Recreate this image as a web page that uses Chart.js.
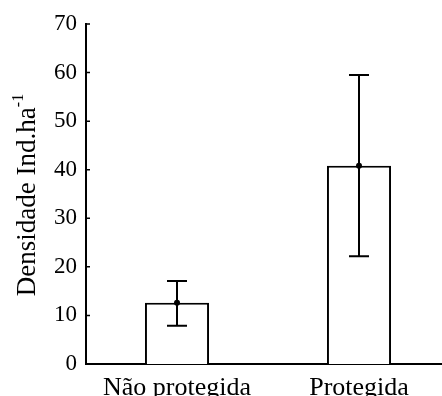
<!DOCTYPE html>
<html>
<head>
<meta charset="utf-8">
<script src="https://cdn.jsdelivr.net/npm/chart.js@4/dist/chart.umd.min.js"></script>
<style>
  html, body { margin: 0; padding: 0; background: #fff; overflow: hidden; }
  #wrap { width: 442px; height: 396px; overflow: hidden; }
  canvas { display: block; }
</style>
</head>
<body>
<div id="wrap"><canvas id="c" width="450" height="396"></canvas></div>
<script>
// Mean density (individuals per hectare) with confidence bounds
const categories = ['Não protegida', 'Protegida'];
const meanDensity = [12.6, 40.8];
const upperBound = [17.1, 59.5];
const lowerBound = [7.9, 22.2];
const yTicks = [0, 10, 20, 30, 40, 50, 60, 70];

const SERIF = "'Liberation Serif', 'Times New Roman', serif";

// Error bars with caps and a small mean marker on each bar
const errorBars = {
  id: 'errorBars',
  afterDatasetsDraw(chart) {
    const ctx = chart.ctx;
    const y = chart.scales.y;
    const meta = chart.getDatasetMeta(0);
    ctx.save();
    ctx.strokeStyle = '#000';
    ctx.lineWidth = 2;
    meta.data.forEach((bar, i) => {
      const x = bar.x;
      const yHi = y.getPixelForValue(upperBound[i]);
      const yLo = y.getPixelForValue(lowerBound[i]);
      const cap = 10;
      ctx.beginPath();
      ctx.moveTo(x, yHi); ctx.lineTo(x, yLo);
      ctx.moveTo(x - cap, yHi); ctx.lineTo(x + cap, yHi);
      ctx.moveTo(x - cap, yLo); ctx.lineTo(x + cap, yLo);
      ctx.stroke();
      const ym = y.getPixelForValue(meanDensity[i]);
      ctx.beginPath();
      ctx.arc(x, ym, 3, 0, Math.PI * 2);
      ctx.fillStyle = '#000';
      ctx.fill();
    });
    ctx.restore();
  }
};

// Short inward tick marks on the value axis
const innerTicks = {
  id: 'innerTicks',
  afterDraw(chart) {
    const ctx = chart.ctx;
    const y = chart.scales.y;
    const left = chart.chartArea.left;
    ctx.save();
    ctx.strokeStyle = '#000';
    ctx.lineWidth = 1.5;
    ctx.beginPath();
    yTicks.forEach(v => {
      const py = y.getPixelForValue(v);
      ctx.moveTo(left, py);
      ctx.lineTo(left + 4, py);
    });
    ctx.stroke();
    ctx.restore();
  }
};

// Rotated axis title with a superscript unit exponent
const yTitle = {
  id: 'yTitle',
  afterDraw(chart) {
    const ctx = chart.ctx;
    const area = chart.chartArea;
    const main = 'Densidade Ind.ha';
    const sup = '-1';
    ctx.save();
    ctx.fillStyle = '#000';
    ctx.font = '27px ' + SERIF;
    const wMain = ctx.measureText(main).width;
    ctx.font = '16px ' + SERIF;
    const wSup = ctx.measureText(sup).width;
    const total = wMain + wSup;
    ctx.translate(35, (area.top + area.bottom) / 2 + 1);
    ctx.rotate(-Math.PI / 2);
    ctx.textBaseline = 'alphabetic';
    ctx.textAlign = 'left';
    ctx.font = '27px ' + SERIF;
    ctx.fillText(main, -total / 2, 0);
    ctx.font = '16px ' + SERIF;
    ctx.fillText(sup, -total / 2 + wMain, -12);
    ctx.restore();
  }
};

new Chart(document.getElementById('c'), {
  type: 'bar',
  data: {
    labels: categories,
    datasets: [{
      data: meanDensity,
      backgroundColor: '#fff',
      borderColor: '#000',
      borderWidth: 2,
      barPercentage: 0.352,
      categoryPercentage: 1
    }]
  },
  options: {
    responsive: false,
    animation: false,
    events: [],
    layout: { padding: { top: 24, left: 0, right: 0, bottom: 0 } },
    plugins: { legend: { display: false }, tooltip: { enabled: false } },
    scales: {
      x: {
        grid: { display: false, drawTicks: false },
        border: { display: true, color: '#000', width: 2 },
        ticks: { color: '#000', font: { family: SERIF, size: 26 }, padding: 9, maxRotation: 0 },
        afterFit(scale) { scale.height = 32; }
      },
      y: {
        min: 0,
        max: 70,
        grid: { display: false, drawTicks: false },
        border: { display: true, color: '#000', width: 2 },
        ticks: { color: '#000', font: { family: SERIF, size: 23 }, padding: 9 },
        afterBuildTicks(scale) { scale.ticks = yTicks.map(v => ({ value: v })); },
        afterFit(scale) { scale.width = 86; }
      }
    }
  },
  plugins: [errorBars, innerTicks, yTitle]
});
</script>
</body>
</html>
